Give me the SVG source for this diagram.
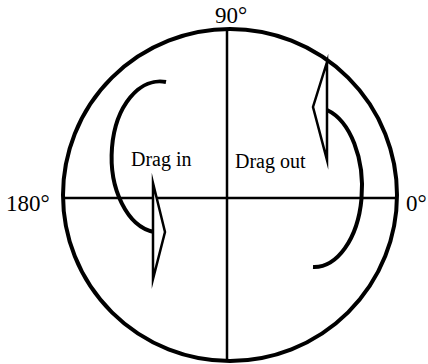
<svg xmlns="http://www.w3.org/2000/svg" width="428" height="364" viewBox="0 0 428 364">
<style>
.lbl{font-family:"Liberation Serif","Times New Roman",serif;fill:#000}
.deg{font-size:23px}
.drag{font-size:20px}
.arc{fill:none;stroke:#000;stroke-width:4}
.head{fill:#fff;stroke:#000;stroke-width:2.5;stroke-linejoin:miter;stroke-miterlimit:20}
</style>
<rect width="428" height="364" fill="#fff"/>
<g id="dial">
<line x1="63" y1="198" x2="397" y2="198" stroke="#000" stroke-width="2.5"/>
<line x1="227" y1="29" x2="227" y2="362" stroke="#000" stroke-width="2.5"/>
<ellipse cx="230" cy="195" rx="167" ry="166" fill="none" stroke="#000" stroke-width="4"/>
</g>
<g id="labels">
<text class="lbl deg" x="231" y="23" text-anchor="middle">90°</text>
<text class="lbl deg" x="6" y="211">180°</text>
<text class="lbl deg" x="406" y="211">0°</text>
</g>
<g id="drag-in">
<path class="arc" d="M166,82 A48,75 0 0 0 154,232"/>
<polygon class="head" points="153,183 165,232 153,279"/>
<text class="lbl drag" x="131" y="166">Drag in</text>
</g>
<g id="drag-out">
<path class="arc" d="M313,267 A48,80 0 0 0 327,110"/>
<polygon class="head" points="327,62 313,107 327,160"/>
<text class="lbl drag" x="235" y="168">Drag out</text>
</g>
</svg>
